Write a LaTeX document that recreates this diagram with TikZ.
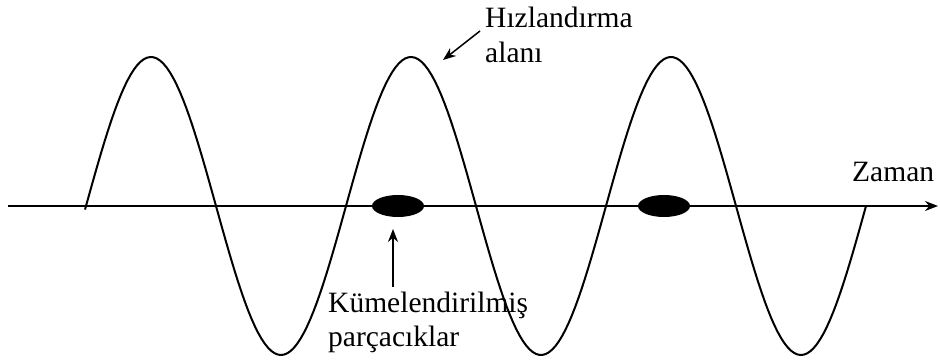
\documentclass[tikz,border=0pt]{standalone}
\usepackage{fontspec}
\setmainfont{Liberation Serif}
\usetikzlibrary{arrows.meta,shapes.geometric}
\begin{document}
\begin{tikzpicture}[>={Stealth[length=13pt,width=10pt]}, x=1pt, y=-1pt]
	\tikzset{
		etiket/.style={anchor=base west, inner sep=0pt, align=left,
			font=\fontsize{29.5}{35}\selectfont},
		demet/.style={ellipse, fill=black, inner sep=0pt,
			minimum width=52pt, minimum height=22pt}
	}
	\useasboundingbox (0,0) rectangle (940,363);

	% Zaman ekseni
	\coordinate (eksenbas) at (8,206);
	\coordinate (eksenson) at (938,206);
	\draw[->, line width=1.5pt] (eksenbas) -- (eksenson);
	\node[etiket] (zaman) at (852,182) {Zaman};

	% Alan dalgası
	\draw[line width=2pt, line join=round, domain=85:866, samples=240]
		plot (\x, {206-149*sin(1.384615*(\x-86))});

	% Kümelenmiş parçacıklar
	\foreach \i/\cx in {1/398, 2/664}
		\node[demet] (demet\i) at (\cx,206) {};

	% Etiketler ve oklar (base = son satır)
	\node[etiket] (hizlandirma) at (485,63) {Hızlandırma\\alanı};
	\coordinate (hokbas) at (480,31);
	\coordinate (hokuc) at (443,60);
	\draw[->, line width=1.5pt] (hokbas) -- (hokuc);

	\node[etiket] (kume) at (328,347) {Kümelendirilmiş\\parçacıklar};
	\coordinate (kokbas) at (393,287);
	\coordinate (kokuc) at (393,229);
	\draw[->, line width=1.5pt] (kokbas) -- (kokuc);
\end{tikzpicture}
\end{document}
